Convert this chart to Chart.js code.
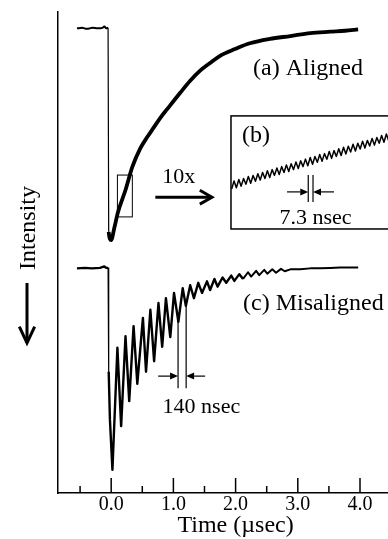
<!DOCTYPE html>
<html>
<head>
<meta charset="utf-8">
<script src="https://cdn.jsdelivr.net/npm/chart.js@4.4.0/dist/chart.umd.min.js"></script>
<style>
  html, body { margin: 0; padding: 0; background: #fff; }
</style>
</head>
<body>
<canvas id="chart" width="388" height="539"></canvas>
<script>
// (a) aligned trace: time in usec, intensity in arbitrary units
const alignedTime = [-0.55, -0.47, -0.39, -0.30, -0.22, -0.14, -0.11, -0.08, -0.05,
    -0.04, 0.00, 0.05, 0.11, 0.23, 0.34, 0.47, 0.58, 0.68, 0.79, 0.90, 1.11, 1.27,
    1.43, 1.59, 1.75, 1.99, 2.23, 2.55, 2.88, 3.20, 3.52, 3.76, 3.97];
const alignedIntensity = [96.6, 96.7, 96.5, 96.7, 96.6, 96.7, 97.0, 96.6, 96.7,
    54.3, 52.6, 55.1, 58.4, 63.0, 67.8, 71.7, 74.0, 75.9, 78.0, 79.8, 83.2, 85.7,
    87.8, 89.4, 90.9, 92.3, 93.5, 94.4, 95.0, 95.6, 95.9, 96.1, 96.4];

// (c) misaligned trace
const misalignedTime = [-0.55, -0.42, -0.31, -0.18, -0.11, -0.08, -0.05, -0.04, -0.02, 0.02,
    0.10, 0.16, 0.23, 0.29, 0.36, 0.42, 0.51, 0.56, 0.63, 0.69,
    0.76, 0.82, 0.88, 0.95, 1.01, 1.08, 1.15, 1.20, 1.27, 1.33,
    1.40, 1.46, 1.54, 1.59, 1.66, 1.71, 1.79, 1.85, 1.93, 1.98,
    2.06, 2.12, 2.20, 2.25, 2.33, 2.38, 2.46, 2.51, 2.59, 2.65,
    2.73, 2.79, 2.88, 3.04, 3.20, 3.36, 3.52, 3.68, 3.84, 3.97];
const misalignedIntensity = [46.7, 46.8, 46.7, 46.8, 47.1, 46.8, 46.8, 25.2, 15.2, 4.8,
    30.2, 13.9, 32.6, 19.1, 34.7, 22.7, 36.4, 25.2, 38.1, 27.4,
    39.5, 30.4, 40.5, 32.4, 41.6, 35.6, 42.6, 38.9, 43.2, 40.5,
    43.7, 41.6, 44.0, 42.2, 44.5, 42.9, 44.8, 43.7, 45.2, 44.1,
    45.5, 44.5, 45.9, 45.0, 46.2, 45.3, 46.4, 45.6, 46.5, 45.8,
    46.6, 46.1, 46.5, 46.5, 46.7, 46.7, 46.8, 46.9, 46.9, 46.9];

// (b) inset, 10x zoom of the aligned trace: time in nsec
const insetTime = [97.0, 100.7, 104.3, 108.0, 111.6, 115.3, 118.9, 122.6, 126.2, 129.9,
    133.5, 137.2, 140.8, 144.5, 148.1, 151.8, 155.4, 159.1, 162.7, 166.4,
    170.0, 173.7, 177.3, 181.0, 184.6, 188.3, 191.9, 195.6, 199.2, 202.9,
    206.5, 210.2, 213.8, 217.5, 221.1, 224.8, 228.4, 232.1, 235.7, 239.4,
    243.0, 246.7, 250.3, 254.0, 257.6, 261.3, 264.9, 268.6, 272.2, 275.9,
    279.5, 283.2, 286.8, 290.5, 294.1, 297.8, 301.4, 305.1, 308.7, 312.4,
    316.0, 319.7, 323.3, 327.0, 330.6, 334.3, 337.9];
const insetIntensity = [60.60, 61.22, 60.70, 61.33, 60.82, 61.40, 60.97, 61.55, 61.04, 61.63,
    61.19, 61.76, 61.28, 61.86, 61.41, 61.99, 61.48, 62.08, 61.64, 62.21,
    61.71, 62.31, 61.86, 62.44, 61.93, 62.53, 62.08, 62.66, 62.16, 62.75,
    62.31, 62.88, 62.38, 63.01, 62.49, 63.08, 62.64, 63.23, 62.72, 63.30,
    62.87, 63.46, 62.94, 63.53, 63.09, 63.68, 63.16, 63.79, 63.28, 63.86,
    63.43, 64.02, 63.50, 64.09, 63.65, 64.24, 63.73, 64.31, 63.88, 64.46,
    63.95, 64.53, 64.10, 64.68, 64.17, 64.80, 64.28];

const majorTicks = [0, 1, 2, 3, 4];
const minorTicks = [-0.5, 0.5, 1.5, 2.5, 3.5];
const tickLabels = ["0.0", "1.0", "2.0", "3.0", "4.0"];

const SERIF = '"Liberation Serif", "Times New Roman", serif';

function points(xs, ys) {
    return xs.map((x, i) => ({x: x, y: ys[i]}));
}

function line(ctx, x1, y1, x2, y2) {
    ctx.beginPath();
    ctx.moveTo(x1, y1);
    ctx.lineTo(x2, y2);
    ctx.stroke();
}

// shaft with an open "V" head at (x2, y2)
function openArrow(ctx, x1, y1, x2, y2, len, spread) {
    const a = Math.atan2(y2 - y1, x2 - x1);
    line(ctx, x1, y1, x2, y2);
    ctx.beginPath();
    ctx.moveTo(x2 - len * Math.cos(a - spread), y2 - len * Math.sin(a - spread));
    ctx.lineTo(x2, y2);
    ctx.lineTo(x2 - len * Math.cos(a + spread), y2 - len * Math.sin(a + spread));
    ctx.stroke();
}

// thin shaft with a filled head at (x2, y2)
function solidArrow(ctx, x1, y1, x2, y2) {
    const a = Math.atan2(y2 - y1, x2 - x1);
    const len = 8, half = 3.5;
    line(ctx, x1, y1, x2 - len * Math.cos(a), y2 - len * Math.sin(a));
    ctx.beginPath();
    ctx.moveTo(x2, y2);
    ctx.lineTo(x2 - len * Math.cos(a) - half * Math.sin(a), y2 - len * Math.sin(a) + half * Math.cos(a));
    ctx.lineTo(x2 - len * Math.cos(a) + half * Math.sin(a), y2 - len * Math.sin(a) - half * Math.cos(a));
    ctx.closePath();
    ctx.fill();
}

function text(ctx, str, x, y, size, align) {
    ctx.font = size + 'px ' + SERIF;
    ctx.textAlign = align || 'left';
    ctx.textBaseline = 'alphabetic';
    ctx.fillText(str, x, y);
}

const marks = {
    id: 'marks',
    afterDraw(chart) {
        const {ctx, chartArea: area, scales} = chart;
        const X = v => scales.x.getPixelForValue(v);
        const Y = v => scales.y.getPixelForValue(v);
        const X2 = v => scales.x2.getPixelForValue(v);
        const Y2 = v => scales.y2.getPixelForValue(v);

        ctx.save();
        ctx.strokeStyle = '#000';
        ctx.fillStyle = '#000';

        // tick marks point up into the plot
        ctx.lineWidth = 1.5;
        majorTicks.forEach(v => line(ctx, X(v), area.bottom, X(v), area.bottom - 15));
        minorTicks.forEach(v => line(ctx, X(v), area.bottom, X(v), area.bottom - 7));

        // small box on (a) and the inset frame
        ctx.lineWidth = 1;
        ctx.strokeRect(X(0.10), Y(66.1), X(0.34) - X(0.10), Y(57.4) - Y(66.1));
        ctx.lineWidth = 1.5;
        ctx.strokeRect(X2(96), Y2(66.18), X2(420) - X2(96), Y2(57.55) - Y2(66.18));

        // 10x arrow
        ctx.lineWidth = 3;
        openArrow(ctx, X(0.71), Y(61.5), X(1.62), Y(61.5), 14, 0.52);
        text(ctx, '10x', X(0.82), Y(64.4), 22);

        // 7.3 nsec period marker in the inset
        ctx.lineWidth = 1.2;
        line(ctx, X2(214.5), Y2(61.67), X2(214.5), Y2(59.61));
        line(ctx, X2(221.8), Y2(61.67), X2(221.8), Y2(59.61));
        solidArrow(ctx, X2(182), Y2(60.38), X2(214.5), Y2(60.38));
        solidArrow(ctx, X2(254), Y2(60.38), X2(221.8), Y2(60.38));
        text(ctx, '7.3 nsec', X2(225.6), Y2(57.93), 22, 'center');
        text(ctx, '(b)', X2(112.9), Y2(64.19), 24);

        // 140 nsec period marker on (c)
        line(ctx, X(1.075), Y(36.4), X(1.075), Y(21.8));
        line(ctx, X(1.205), Y(38.9), X(1.205), Y(21.8));
        solidArrow(ctx, X(0.755), Y(24.3), X(1.075), Y(24.3));
        solidArrow(ctx, X(1.51), Y(24.3), X(1.205), Y(24.3));
        text(ctx, '140 nsec', X(1.45), Y(16.6), 22, 'center');

        // trace labels
        text(ctx, '(a) Aligned', X(2.28), Y(86.9), 24);
        text(ctx, '(c) Misaligned', X(2.12), Y(38.05), 24);

        // axis titles
        text(ctx, 'Time (\u00b5sec)', X(2.0), area.bottom + 39, 24, 'center');
        ctx.save();
        ctx.translate(35, 228);
        ctx.rotate(-Math.PI / 2);
        text(ctx, 'Intensity', 0, 0, 24, 'center');
        ctx.restore();
        ctx.lineWidth = 3;
        openArrow(ctx, 27, 283, 27, 343, 18, 0.44);

        ctx.restore();
    }
};

new Chart(document.getElementById('chart'), {
    type: 'line',
    data: {
        datasets: [{
            label: '(a) Aligned',
            data: points(alignedTime, alignedIntensity),
            xAxisID: 'x',
            yAxisID: 'y',
            borderColor: '#000',
            borderWidth: 3.5,
            borderJoinStyle: 'round',
            cubicInterpolationMode: 'monotone',
            pointRadius: 0,
            segment: {
                borderWidth: c => c.p0DataIndex < 8 ? 2 : (c.p0DataIndex === 8 ? 1.2 : 3.8)
            }
        }, {
            label: '(c) Misaligned',
            data: points(misalignedTime, misalignedIntensity),
            xAxisID: 'x',
            yAxisID: 'y',
            borderColor: '#000',
            borderWidth: 2.4,
            borderJoinStyle: 'round',
            pointRadius: 0,
            segment: {
                borderWidth: c => c.p0DataIndex === 6 ? 1.2 : (c.p0DataIndex > 40 ? 2 : 2.4)
            }
        }, {
            label: '(b) 10x',
            data: points(insetTime, insetIntensity),
            xAxisID: 'x2',
            yAxisID: 'y2',
            borderColor: '#000',
            borderWidth: 1.5,
            borderJoinStyle: 'round',
            pointRadius: 0
        }]
    },
    options: {
        responsive: false,
        animation: false,
        layout: {padding: {top: 12, right: 0, bottom: 0, left: 0}},
        plugins: {legend: {display: false}, tooltip: {enabled: false}},
        scales: {
            x: {
                type: 'linear',
                min: -0.855,
                max: 4.45,
                grid: {display: false, drawTicks: false},
                border: {display: true, color: '#000', width: 1.5},
                ticks: {
                    color: '#000',
                    font: {family: SERIF, size: 20},
                    padding: 0,
                    maxRotation: 0,
                    autoSkip: false,
                    callback: v => {
                        const i = majorTicks.indexOf(v);
                        return i >= 0 ? tickLabels[i] : '';
                    }
                },
                afterBuildTicks: s => {
                    s.ticks = minorTicks.concat(majorTicks).sort((a, b) => a - b).map(v => ({value: v}));
                },
                afterFit: s => { s.height = 46; }
            },
            y: {
                type: 'linear',
                min: 0,
                max: 100,
                grid: {display: false, drawTicks: false},
                border: {display: true, color: '#000', width: 1.5},
                ticks: {display: false},
                afterFit: s => { s.width = 58; }
            },
            x2: {type: 'linear', display: false, min: -169.3, max: 336.8},
            y2: {type: 'linear', display: false, min: 37.40, max: 74.11}
        }
    },
    plugins: [marks]
});
</script>
</body>
</html>
